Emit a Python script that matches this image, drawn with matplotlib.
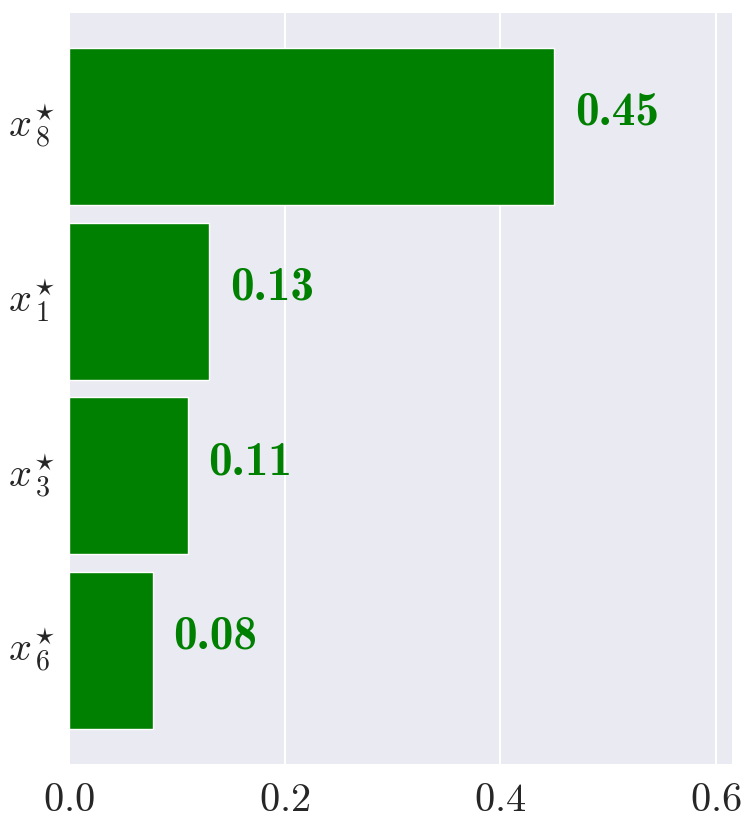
import os
import matplotlib
matplotlib.use("Agg")
import matplotlib.pyplot as plt
from matplotlib.font_manager import FontProperties
import seaborn as sns

features = [r"$x_{\,8}^{\!\star}$", r"$x_{\,1}^{\!\star}$", r"$x_{\,3}^{\!\star}$", r"$x_{\,6}^{\!\star}$"]
importance = [0.45, 0.13, 0.11, 0.078]
value_labels = ["0.45", "0.13", "0.11", "0.08"]
xticks = [0.0, 0.2, 0.4, 0.6]

sns.set_style("darkgrid")
plt.rcParams["mathtext.fontset"] = "cm"
plt.rcParams["font.family"] = ["serif"]
plt.rcParams["font.serif"] = ["cmr10", "DejaVu Serif"]
plt.rcParams["axes.formatter.use_mathtext"] = True

bold_path = os.path.join(matplotlib.get_data_path(), "fonts", "ttf", "cmb10.ttf")
bold_fp = FontProperties(fname=bold_path, size=34)

fig = plt.figure(figsize=(7.56, 8.31), dpi=100)
ax = fig.add_axes([69/756, 1 - 764/831, (732-69)/756, (764-13)/831])

ypos = list(range(len(features)))
ax.barh(ypos, importance, height=0.9, color="green")
for y, v, lab in zip(ypos, importance, value_labels):
    ax.text(v + 0.019, y - 0.01, lab, color="green",
            fontproperties=bold_fp, va="baseline", ha="left")

ax.set_yticks(ypos)
ax.set_yticklabels(features, fontsize=29)
for t in ax.get_yticklabels():
    t.set_va("center")
ax.set_xticks(xticks)
ax.set_xticklabels([r"$%.1f$" % t for t in xticks], fontsize=29)
ax.set_xlim(0, 0.6149)
ax.set_ylim(3.65, -0.65)
ax.grid(axis="y", visible=False)
ax.grid(axis="x", color="white", linewidth=1.5)
ax.tick_params(axis="y", pad=10, length=0)
ax.tick_params(axis="x", pad=14, length=0)
for s in ax.spines.values():
    s.set_visible(False)

fig.savefig("out.png", dpi=100)
